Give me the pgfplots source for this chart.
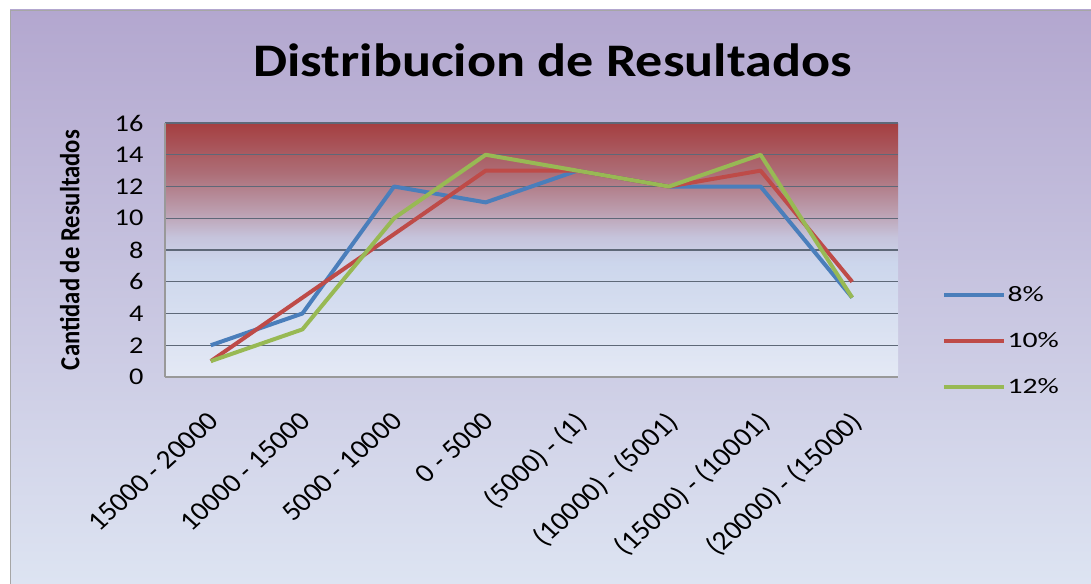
\documentclass[border=0pt]{standalone}
\usepackage{graphicx}
\usepackage{pgfplots}
\pgfplotsset{compat=1.18}
\usepackage{fontspec}
\setmainfont{Carlito}
\definecolor{c8}{HTML}{4A7EBB}
\definecolor{c10}{HTML}{BE4B48}
\definecolor{c12}{HTML}{98B954}
\definecolor{bgtop}{HTML}{B3A7CF}
\definecolor{bgbot}{HTML}{DDE4F2}
\definecolor{pa0}{HTML}{E4E9F5}
\definecolor{pa1}{HTML}{CCD6EC}
\definecolor{pa2}{HTML}{C6C4DC}
\definecolor{pa3}{HTML}{BC9FB0}
\definecolor{pa4}{HTML}{AD6F78}
\definecolor{pa5}{HTML}{A53E40}
\definecolor{gridc}{HTML}{5E6878}
\pgfdeclareverticalshading{plotbg}{100bp}{%
 color(0bp)=(pa0); color(25bp)=(pa0); color(47.5bp)=(pa1); color(52.5bp)=(pa2);
 color(57.5bp)=(pa3); color(65bp)=(pa4); color(75bp)=(pa5); color(100bp)=(pa5)}
\begin{document}
\begin{tikzpicture}
\useasboundingbox (0pt,0pt) rectangle (818.25pt,437.25pt);
\shade[top color=bgtop, bottom color=bgbot, draw=gray!70] (7.5pt,-1pt) rectangle (819pt,429.75pt);
\node[anchor=base, font=\bfseries\fontsize{35}{40}\selectfont, inner sep=0pt, xscale=1.16] at (414.4pt,379.5pt) {Distribucion de Resultados};
\begin{axis}[
  at={(123.75pt,154.5pt)}, anchor=south west, scale only axis,
  width=549.75pt, height=190.5pt,
  xmin=-0.5, xmax=7.5, ymin=0, ymax=16,
  ytick={0,2,...,16}, xtick={0,...,7},
  xticklabels={15000 - 20000, 10000 - 15000, 5000 - 10000, 0 - 5000, (5000) - (1), (10000) - (5001), (15000) - (10001), (20000) - (15000)},
  axis background/.style={shading=plotbg},
  axis lines*=left,
  axis line style={color=gray!80, line width=1pt},
  ymajorgrids, grid style={color=gridc, line width=1pt},
  major tick length=0pt,
  /pgf/number format/assume math mode=true,
  yticklabel style={font=\fontsize{18}{21}\selectfont, anchor=east, xshift=-12pt, xscale=1.18},
  xticklabel shift=20pt,
  xticklabel style={font=\fontsize{20}{23}\selectfont, xshift=-3pt, xscale=1.1, rotate=45, anchor=north east},
  ylabel={\bfseries Cantidad de Resultados},
  ylabel style={font=\fontsize{18.5}{21}\selectfont, at={(axis description cs:-0.13,0.5)}, anchor=center, rotate=0, yscale=1.12},
  legend style={at={(axis description cs:1.06,0.142)}, anchor=west, draw=none, fill=none,
     font=\fontsize{16.5}{19}\selectfont, row sep=20pt, inner sep=0pt, nodes={inner sep=1pt}, cells={anchor=west}},
  legend image code/.code={\draw[#1] (0pt,0pt) -- (45pt,0pt);},
  every axis plot/.append style={line width=3pt, line join=round},
]
\addplot[c8] coordinates {(0,2) (1,4) (2,12) (3,11) (4,13) (5,12) (6,12) (7,5)};
\addplot[c10] coordinates {(0,1) (1,5) (2,9) (3,13) (4,13) (5,12) (6,13) (7,6)};
\addplot[c12] coordinates {(0,1) (1,3) (2,10) (3,14) (4,13) (5,12) (6,14) (7,5)};
\legend{\scalebox{1.35}[1]{8\%}, \scalebox{1.35}[1]{10\%}, \scalebox{1.35}[1]{12\%}}
\end{axis}
\end{tikzpicture}
\end{document}
